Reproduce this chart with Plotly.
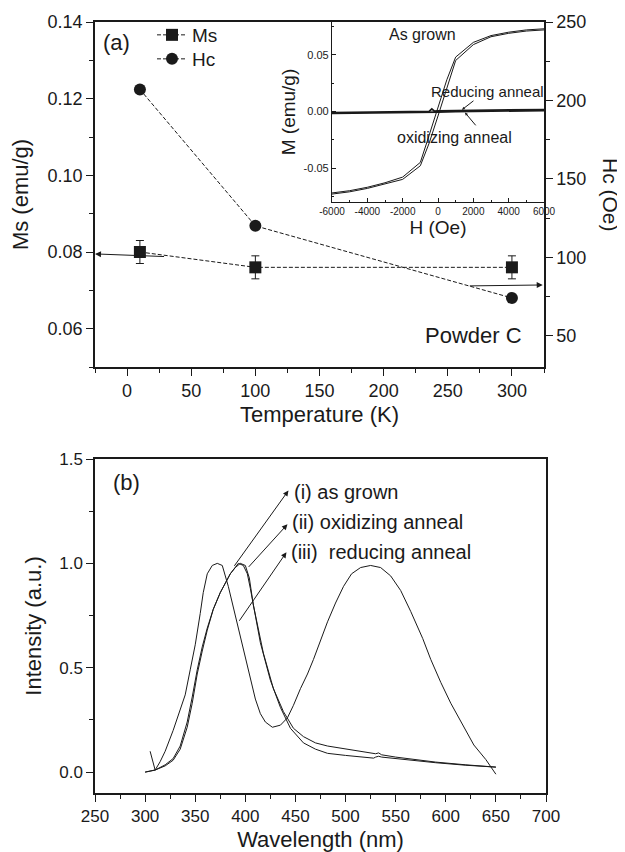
import plotly.graph_objects as go

# ---------------- data: panel (a) ----------------
temperature_K = [10, 100, 300]
Ms_emu_g = [0.080, 0.076, 0.076]
Ms_err = [0.003, 0.003, 0.003]
Hc_Oe = [207, 120, 74]

# inset hysteresis loops (H in Oe, M in emu/g)
H_loop = [-6000, -5000, -4000, -3000, -2000, -1000, -500, 0, 500, 1000, 2000, 3000, 4000, 5000, 6000]
M_asgrown_up = [-0.073, -0.071, -0.068, -0.064, -0.060, -0.048, -0.028, -0.004, 0.021, 0.045, 0.059, 0.066, 0.069, 0.071, 0.072]
M_asgrown_down = [-0.072, -0.070, -0.067, -0.063, -0.058, -0.045, -0.021, 0.004, 0.028, 0.048, 0.061, 0.067, 0.070, 0.072, 0.073]
H_flat = [-6000, -3000, -1000, -500, -350, -200, 0, 1000, 3000, 6000]
M_reducing = [-0.0010, -0.0006, -0.0002, 0.0000, 0.0022, 0.0002, 0.0004, 0.0008, 0.0012, 0.0016]
M_oxidizing = [-0.0018, -0.0014, -0.0010, -0.0009, -0.0008, -0.0007, -0.0006, -0.0002, 0.0004, 0.0008]

# ---------------- data: panel (b) ----------------
wl_iii = [305, 308, 310, 315, 320, 328, 335, 340, 345, 350, 355, 358, 362, 367, 372, 377, 383, 388, 393, 399,
          405, 410, 415, 420, 427, 435, 442, 448, 455, 462, 468, 475, 482, 490, 498, 506, 515, 525, 535, 545,
          555, 565, 577, 585, 595, 605, 615, 628, 640, 650]
I_iii = [0.10, 0.04, 0.01, 0.05, 0.10, 0.20, 0.30, 0.37, 0.49, 0.61, 0.76, 0.86, 0.95, 0.99, 1.00, 0.99, 0.89, 0.79, 0.69, 0.56,
         0.44, 0.35, 0.28, 0.24, 0.215, 0.225, 0.26, 0.32, 0.40, 0.47, 0.54, 0.63, 0.72, 0.81, 0.89, 0.95, 0.98, 0.99, 0.98, 0.94,
         0.87, 0.77, 0.64, 0.54, 0.43, 0.33, 0.24, 0.13, 0.06, -0.01]

wl_i = [300, 310, 320, 328, 335, 342, 347, 352, 357, 362, 368, 375, 385, 390, 395, 400, 404, 408, 418, 428,
        438, 448, 458, 470, 482, 500, 515, 530, 533, 536, 550, 565, 590, 620, 650]
I_i = [0.00, 0.01, 0.03, 0.057, 0.11, 0.215, 0.33, 0.47, 0.58, 0.68, 0.78, 0.86, 0.95, 0.98, 1.00, 0.99, 0.93, 0.80, 0.57, 0.40,
       0.29, 0.21, 0.17, 0.14, 0.125, 0.11, 0.10, 0.088, 0.092, 0.083, 0.072, 0.062, 0.048, 0.035, 0.024]

wl_ii = [300, 310, 320, 328, 335, 342, 347, 352, 357, 362, 368, 375, 385, 393, 398, 402, 405, 415, 425, 435,
         445, 458, 470, 482, 500, 515, 528, 530, 533, 536, 550, 565, 590, 620, 650]
I_ii = [0.00, 0.01, 0.035, 0.065, 0.125, 0.24, 0.36, 0.49, 0.60, 0.69, 0.78, 0.86, 0.95, 1.00, 0.99, 0.95, 0.88, 0.62, 0.44, 0.31,
        0.21, 0.14, 0.11, 0.09, 0.08, 0.073, 0.067, 0.072, 0.076, 0.072, 0.065, 0.057, 0.045, 0.033, 0.024]

# tick labels
inset_x_tickvals = [-6000, -4000, -2000, 0, 2000, 4000, 6000]
inset_x_ticktext = ["-6000", "-4000", "-2000", "0", "2000", "4000", "6000"]
inset_y_tickvals = [-0.05, 0.0, 0.05]
inset_y_ticktext = ["-0.05", "0.00", "0.05"]

FONT = "Liberation Sans, Arial, Helvetica, sans-serif"
INK = "#1a1a1a"
OFF = 8                      # page body margin
W, H = 625 - OFF, 852 - OFF


def px_x(p):
    return (p - OFF) / W


def px_y(p):
    return 1 - (p - OFF) / H


fig = go.Figure()

# ---- panel (a) main traces ----
fig.add_trace(go.Scatter(
    x=temperature_K, y=Ms_emu_g, name="Ms", mode="lines+markers", legend="legend",
    line=dict(color=INK, width=1, dash="4px,2px"),
    marker=dict(symbol="square", size=12, color=INK),
    error_y=dict(type="data", array=Ms_err, visible=True, width=4, thickness=1, color=INK),
    xaxis="x", yaxis="y"))
fig.add_trace(go.Scatter(
    x=temperature_K, y=Hc_Oe, name="Hc", mode="lines+markers", legend="legend2",
    line=dict(color=INK, width=1, dash="4px,2px"),
    marker=dict(symbol="circle", size=12, color=INK),
    xaxis="x", yaxis="y2"))

# ---- inset traces ----
for M in (M_asgrown_up, M_asgrown_down):
    fig.add_trace(go.Scatter(x=H_loop, y=M, mode="lines", showlegend=False,
                             line=dict(color=INK, width=1), xaxis="x2", yaxis="y3"))
for M in (M_reducing, M_oxidizing):
    fig.add_trace(go.Scatter(x=H_flat, y=M, mode="lines", showlegend=False,
                             line=dict(color=INK, width=1.8), xaxis="x2", yaxis="y3"))

# ---- panel (b) traces ----
for wl, I in ((wl_i, I_i), (wl_ii, I_ii), (wl_iii, I_iii)):
    fig.add_trace(go.Scatter(x=wl, y=I, mode="lines", showlegend=False,
                             line=dict(color=INK, width=1), xaxis="x3", yaxis="y4"))

axis_common = dict(showline=True, linecolor=INK, linewidth=1.5, ticks="outside", tickcolor=INK,
                   tickwidth=1.3, ticklen=7, showgrid=False, zeroline=False, automargin=False,
                   tickfont=dict(family=FONT, size=18, color=INK))

legend_style = dict(xanchor="left", yanchor="middle", bgcolor="rgba(0,0,0,0)",
                    font=dict(family=FONT, size=19, color=INK), itemwidth=30)

fig.update_layout(
    width=W, height=H, margin=dict(l=0, r=0, t=0, b=0),
    paper_bgcolor="white", plot_bgcolor="white",
    font=dict(family=FONT, color=INK),
    showlegend=True,
    legend=dict(x=px_x(152), y=px_y(35), **legend_style),
    legend2=dict(x=px_x(152), y=px_y(59), **legend_style),
    xaxis=dict(**axis_common, domain=[px_x(95), px_x(544)], anchor="y", range=[-25, 325],
               tick0=0, dtick=50, mirror=True,
               minor=dict(ticks="outside", ticklen=4, dtick=25, tick0=0, tickcolor=INK),
               title=dict(text="Temperature (K)", font=dict(family=FONT, size=22, color=INK), standoff=6)),
    yaxis=dict(**axis_common, domain=[px_y(367), px_y(22)], anchor="x", range=[0.05, 0.14],
               tick0=0.06, dtick=0.02, tickformat=".2f",
               minor=dict(ticks="outside", ticklen=4, dtick=0.01, tick0=0.05, tickcolor=INK),
               title=dict(text="Ms (emu/g)", font=dict(family=FONT, size=22, color=INK), standoff=16)),
    yaxis2=dict(**axis_common, overlaying="y", side="right", anchor="x", range=[30, 250],
                tick0=50, dtick=50,
                minor=dict(ticks="outside", ticklen=4, dtick=25, tick0=0, tickcolor=INK)),
    xaxis2=dict(showline=True, linecolor=INK, linewidth=1.2, ticks="inside", ticklen=4, tickcolor=INK,
                showgrid=False, zeroline=False, automargin=False,
                domain=[px_x(332), px_x(544)], anchor="y3", range=[-6000, 6000],
                tickvals=inset_x_tickvals, ticktext=inset_x_ticktext,
                tickfont=dict(family=FONT, size=10, color=INK),
                minor=dict(ticks="inside", ticklen=2, dtick=1000, tick0=0, tickcolor=INK),
                title=dict(text="H (Oe)", font=dict(family=FONT, size=19, color=INK), standoff=4)),
    yaxis3=dict(showline=True, linecolor=INK, linewidth=1.2, ticks="inside", ticklen=4, tickcolor=INK,
                showgrid=False, zeroline=False, automargin=False,
                domain=[px_y(202), px_y(22)], anchor="x2", range=[-0.080, 0.079],
                tickvals=inset_y_tickvals, ticktext=inset_y_ticktext,
                tickfont=dict(family=FONT, size=11, color=INK),
                minor=dict(ticks="inside", ticklen=2, dtick=0.025, tick0=0, tickcolor=INK),
                title=dict(text="M (emu/g)", font=dict(family=FONT, size=19, color=INK), standoff=2)),
    xaxis3=dict(**axis_common, domain=[px_x(95), px_x(546)], anchor="y4", range=[250, 700],
                tick0=250, dtick=50, mirror=True,
                minor=dict(ticks="outside", ticklen=4, dtick=25, tick0=250, tickcolor=INK),
                title=dict(text="Wavelength (nm)", font=dict(family=FONT, size=22, color=INK), standoff=6)),
    yaxis4=dict(**axis_common, domain=[px_y(793), px_y(459)], anchor="x3", range=[-0.1, 1.5],
                tickvals=[0, 0.5, 1.0, 1.5], tickformat=".1f", mirror=True,
                minor=dict(ticks="outside", ticklen=4, dtick=0.25, tick0=0, tickcolor=INK),
                title=dict(text="Intensity (a.u.)", font=dict(family=FONT, size=22, color=INK), standoff=12)),
)
fig.update_layout(xaxis3_tickfont_size=17, yaxis4_tickfont_size=17)

ann = []
# panel labels / texts
ann.append(dict(text="(a)", xref="paper", yref="paper", x=px_x(101), y=px_y(42), xanchor="left",
                yanchor="middle", showarrow=False, font=dict(family=FONT, size=22, color=INK)))
ann.append(dict(text="Powder C", xref="paper", yref="paper", x=px_x(524), y=px_y(335), xanchor="right",
                yanchor="middle", showarrow=False, font=dict(family=FONT, size=22, color=INK)))
ann.append(dict(text="Hc (Oe)", xref="paper", yref="paper", x=px_x(611), y=px_y(195), textangle=90,
                xanchor="center", yanchor="middle", showarrow=False,
                font=dict(family=FONT, size=21, color=INK)))
# arrows in panel (a)
ann.append(dict(x=-25, y=0.0795, ax=30, ay=0.0788, xref="x", yref="y", axref="x", ayref="y",
                showarrow=True, arrowhead=2, arrowsize=1.2, arrowwidth=1, arrowcolor=INK, text=""))
ann.append(dict(x=324, y=82.3, ax=266, ay=81.7, xref="x", yref="y2", axref="x", ayref="y2",
                showarrow=True, arrowhead=2, arrowsize=1.2, arrowwidth=1, arrowcolor=INK, text=""))
# inset texts
ann.append(dict(text="As grown", xref="x2", yref="y3", x=-850, y=0.068, showarrow=False,
                font=dict(family=FONT, size=16, color=INK)))
ann.append(dict(text="Reducing anneal", xref="x2", yref="y3", x=2830, y=0.0175, showarrow=False,
                font=dict(family=FONT, size=15, color=INK)))
ann.append(dict(text="oxidizing anneal", xref="x2", yref="y3", x=960, y=-0.0234, showarrow=False,
                font=dict(family=FONT, size=16, color=INK)))
ann.append(dict(x=1357, y=0.0015, ax=2093, ay=0.0104, xref="x2", yref="y3", axref="x2", ayref="y3",
                showarrow=True, arrowhead=2, arrowsize=0.6, arrowwidth=1, arrowcolor=INK, text=""))
ann.append(dict(x=1527, y=-0.001, ax=2206, ay=-0.0136, xref="x2", yref="y3", axref="x2", ayref="y3",
                showarrow=True, arrowhead=2, arrowsize=0.6, arrowwidth=1, arrowcolor=INK, text=""))
# panel (b)
ann.append(dict(text="(b)", xref="paper", yref="paper", x=px_x(111), y=px_y(482), xanchor="left",
                yanchor="middle", showarrow=False, font=dict(family=FONT, size=22, color=INK)))
labels_b = [("(i) as grown", 447, 1.34, 388, 0.981, 443, 1.349),
            ("(ii) oxidizing anneal", 445, 1.196, 402, 0.976, 442, 1.187),
            ("(iii)&nbsp; reducing anneal", 444, 1.053, 393, 0.718, 441, 1.053)]
for txt, tx, ty, x0, y0, x1, y1 in labels_b:
    ann.append(dict(text=txt, xref="x3", yref="y4", x=tx, y=ty, xanchor="left", yanchor="middle",
                    showarrow=False, font=dict(family=FONT, size=20, color=INK)))
    ann.append(dict(x=x1, y=y1, ax=x0, ay=y0, xref="x3", yref="y4", axref="x3", ayref="y4",
                    showarrow=True, arrowhead=2, arrowsize=1.1, arrowwidth=1, arrowcolor=INK, text=""))
fig.update_layout(annotations=ann)

fig.write_html("out.html")
